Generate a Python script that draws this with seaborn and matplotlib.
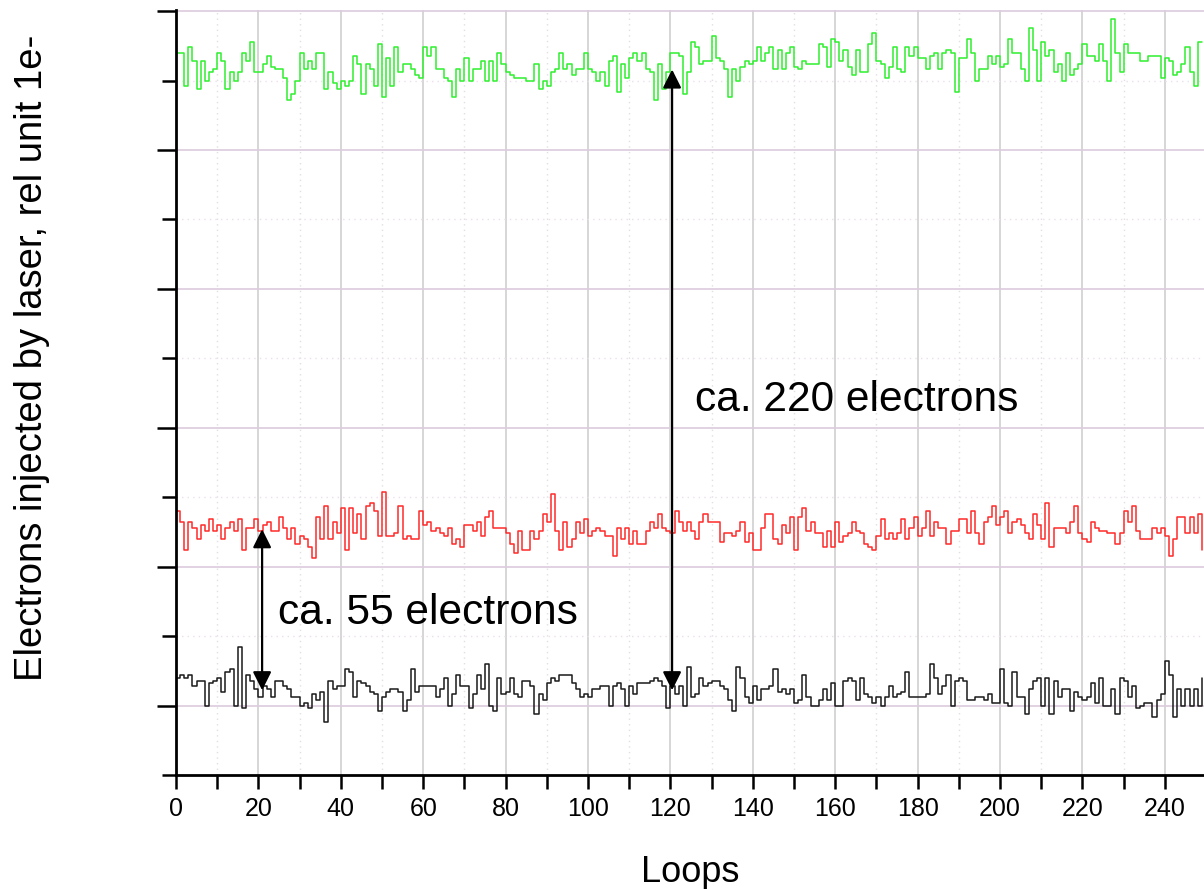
import numpy as np
import pandas as pd
import matplotlib
matplotlib.use("Agg")
import matplotlib.pyplot as plt
import seaborn as sns
from matplotlib.ticker import MultipleLocator

loops = list(range(250))

green = [235,235,223,237,232,222,232,225,228,229,
         235,232,222,228,225,228,235,232,239,228,
         228,231,234,230,229,229,226,218,220,225,
         235,229,232,229,235,235,222,228,224,222,
         225,223,225,234,231,220,231,229,223,238,
         219,233,223,237,228,231,231,229,227,226,
         237,234,237,229,229,226,225,219,229,225,
         233,225,229,229,232,225,232,225,235,231,
         228,227,226,226,226,225,225,231,222,225,
         223,228,229,235,229,231,227,229,229,235,
         229,228,225,228,223,232,234,221,231,226,
         233,235,232,235,229,228,218,231,222,228,
         235,235,234,220,228,239,237,231,232,232,
         241,233,232,229,219,229,225,230,232,231,
         232,237,232,235,237,229,236,229,235,237,
         230,229,232,231,231,231,238,237,230,240,
         239,232,236,230,227,236,228,228,238,242,
         232,231,226,230,237,229,228,237,234,237,
         233,233,229,234,235,229,235,236,235,221,
         233,233,240,235,225,229,229,234,231,234,
         230,231,240,235,235,229,225,244,236,225,
         239,234,236,228,231,225,235,227,229,231,
         238,234,234,232,238,232,225,247,235,228,
         238,235,235,235,232,232,234,234,234,226,
         233,232,227,228,231,237,228,223,239,239]

red = [70,66,56,66,64,60,65,63,67,63,
       65,60,64,66,63,67,56,64,64,67,
       63,65,66,63,63,68,64,60,64,58,
       61,60,57,53,68,60,72,60,66,62,
       71,56,71,62,69,60,72,73,70,61,
       77,61,61,62,72,60,61,60,60,70,
       65,66,63,64,62,61,64,58,60,57,
       65,65,63,66,61,68,70,64,64,64,
       62,58,55,63,56,56,63,60,63,69,
       66,76,63,56,66,57,60,66,62,67,
       61,63,64,63,61,61,54,64,60,64,
       58,63,58,58,63,66,64,69,64,63,
       62,70,66,63,66,63,60,66,69,66,
       66,66,59,62,62,61,63,66,59,62,
       56,56,64,69,69,60,58,65,62,68,
       56,68,71,63,66,62,62,57,63,57,
       66,59,61,62,66,63,62,58,57,56,
       61,67,60,62,60,62,67,60,64,68,
       61,64,70,61,66,64,64,58,63,63,
       67,67,62,70,62,58,66,68,72,65,
       68,70,62,66,67,65,62,60,69,65,
       60,73,57,64,64,64,62,66,72,62,
       60,59,66,64,63,63,62,62,58,62,
       70,66,72,63,60,60,60,64,62,64,
       61,54,60,68,68,62,68,62,69,56]

black = [10,11,10,11,7,9,9,0,8,9,
         10,5,12,13,0,21,-1,11,9,6,
         3,7,6,3,9,9,7,6,3,3,
         0,1,-1,4,2,5,-6,9,6,7,
         7,13,12,3,9,8,7,5,4,-2,
         3,5,6,6,5,-2,2,13,5,7,
         7,7,7,3,6,10,0,4,11,7,
         7,-1,4,11,6,15,0,-2,10,4,
         5,10,4,3,9,9,7,-3,4,2,
         8,10,9,11,11,11,8,6,3,4,
         3,6,6,7,7,0,7,8,6,0,
         7,4,8,8,8,9,10,9,7,-1,
         7,4,7,0,14,3,4,10,7,8,
         9,9,7,6,2,-2,14,10,3,1,
         7,2,6,6,7,13,5,6,4,6,
         1,2,11,3,0,0,2,6,2,8,
         0,0,9,10,9,2,10,4,3,1,
         3,0,3,7,3,4,5,12,3,3,
         3,3,4,15,10,4,7,11,0,9,
         10,9,2,2,3,3,2,4,1,1,
         13,1,0,12,3,3,-3,6,9,10,
         0,10,-3,9,3,6,6,-2,5,3,
         2,3,8,1,10,0,0,6,-3,10,
         9,3,7,-1,0,1,1,-4,2,4,
         16,11,-4,6,0,6,0,6,0,10]

series_colors = {"green": "#2ef02e", "red": "#ff2a2a", "black": "#1a1a1a"}
x_ticks = list(range(0, 250, 20))

annot_big = "ca. 220 electrons"
annot_small = "ca. 55 electrons"
x_label = "Loops"
y_label = "Electrons injected by laser, rel unit 1e-"

df = pd.DataFrame({
    "Loops": loops * 3,
    "value": green + red + black,
    "series": ["green"] * 250 + ["red"] * 250 + ["black"] * 250,
})

sns.set_style("white")
plt.rcParams["font.family"] = ["Liberation Sans", "DejaVu Sans"]
plt.rcParams["text.color"] = "black"
plt.rcParams["axes.labelcolor"] = "black"

fig = plt.figure(figsize=(12.04, 8.89), dpi=100)
ax = fig.add_axes([176 / 1204, 114 / 889, 1 - 176 / 1204, 765 / 889])

sns.lineplot(data=df, x="Loops", y="value", hue="series",
             palette=series_colors, drawstyle="steps-post",
             linewidth=1.1, legend=False, ax=ax, estimator=None, sort=False)

ax.set_xlim(0, 249.5)
ax.set_ylim(-25, 250.4)

ax.xaxis.set_major_locator(MultipleLocator(20))
ax.xaxis.set_minor_locator(MultipleLocator(10))
ax.yaxis.set_major_locator(MultipleLocator(50))
ax.yaxis.set_minor_locator(MultipleLocator(25))
ax.set_xticks(x_ticks)
ax.set_yticklabels([])

ax.grid(which="major", axis="x", color="#cfcfcf", linewidth=1.2, linestyle="-")
ax.grid(which="minor", axis="x", color="#e0e0e0", linewidth=1.0, linestyle=(0, (1, 3)))
ax.grid(which="major", axis="y", color="#dccbdc", linewidth=1.2, linestyle="-")
ax.grid(which="minor", axis="y", color="#eddfed", linewidth=1.0, linestyle=(0, (1, 3)))
ax.set_axisbelow(True)

for s in ["top", "right"]:
    ax.spines[s].set_visible(False)
for s in ["left", "bottom"]:
    ax.spines[s].set_color("black")
    ax.spines[s].set_linewidth(2.0)

ax.tick_params(axis="both", which="both", bottom=True, left=True,
               top=False, right=False, direction="out", color="black")
ax.tick_params(axis="x", which="major", length=10, width=1.8,
               labelsize=18, pad=6, labelcolor="black")
ax.tick_params(axis="x", which="minor", length=10, width=1.8)
ax.tick_params(axis="y", which="major", length=14, width=1.8)
ax.tick_params(axis="y", which="minor", length=10, width=1.8)

ax.set_xlabel(x_label, fontsize=26, color="black")
ax.set_ylabel(y_label, fontsize=27.5, color="black")
ax.xaxis.set_label_coords(0.5, -0.105)
ax.yaxis.set_label_coords(-0.123, 0.545)

arrow_kw = dict(arrowstyle="<|-|>", color="black", lw=1.6,
                mutation_scale=28, shrinkA=0, shrinkB=0)
ax.annotate("", xy=(120.4, 229), xytext=(120.4, 5.5), arrowprops=arrow_kw)
ax.annotate("", xy=(20.9, 63.5), xytext=(20.9, 5.5), arrowprops=arrow_kw)

ax.text(126, 110, annot_big, fontsize=30.6, va="center", ha="left", color="black")
ax.text(24.8, 33.5, annot_small, fontsize=30.6, va="center", ha="left", color="black")

fig.savefig("out.png", dpi=100)
